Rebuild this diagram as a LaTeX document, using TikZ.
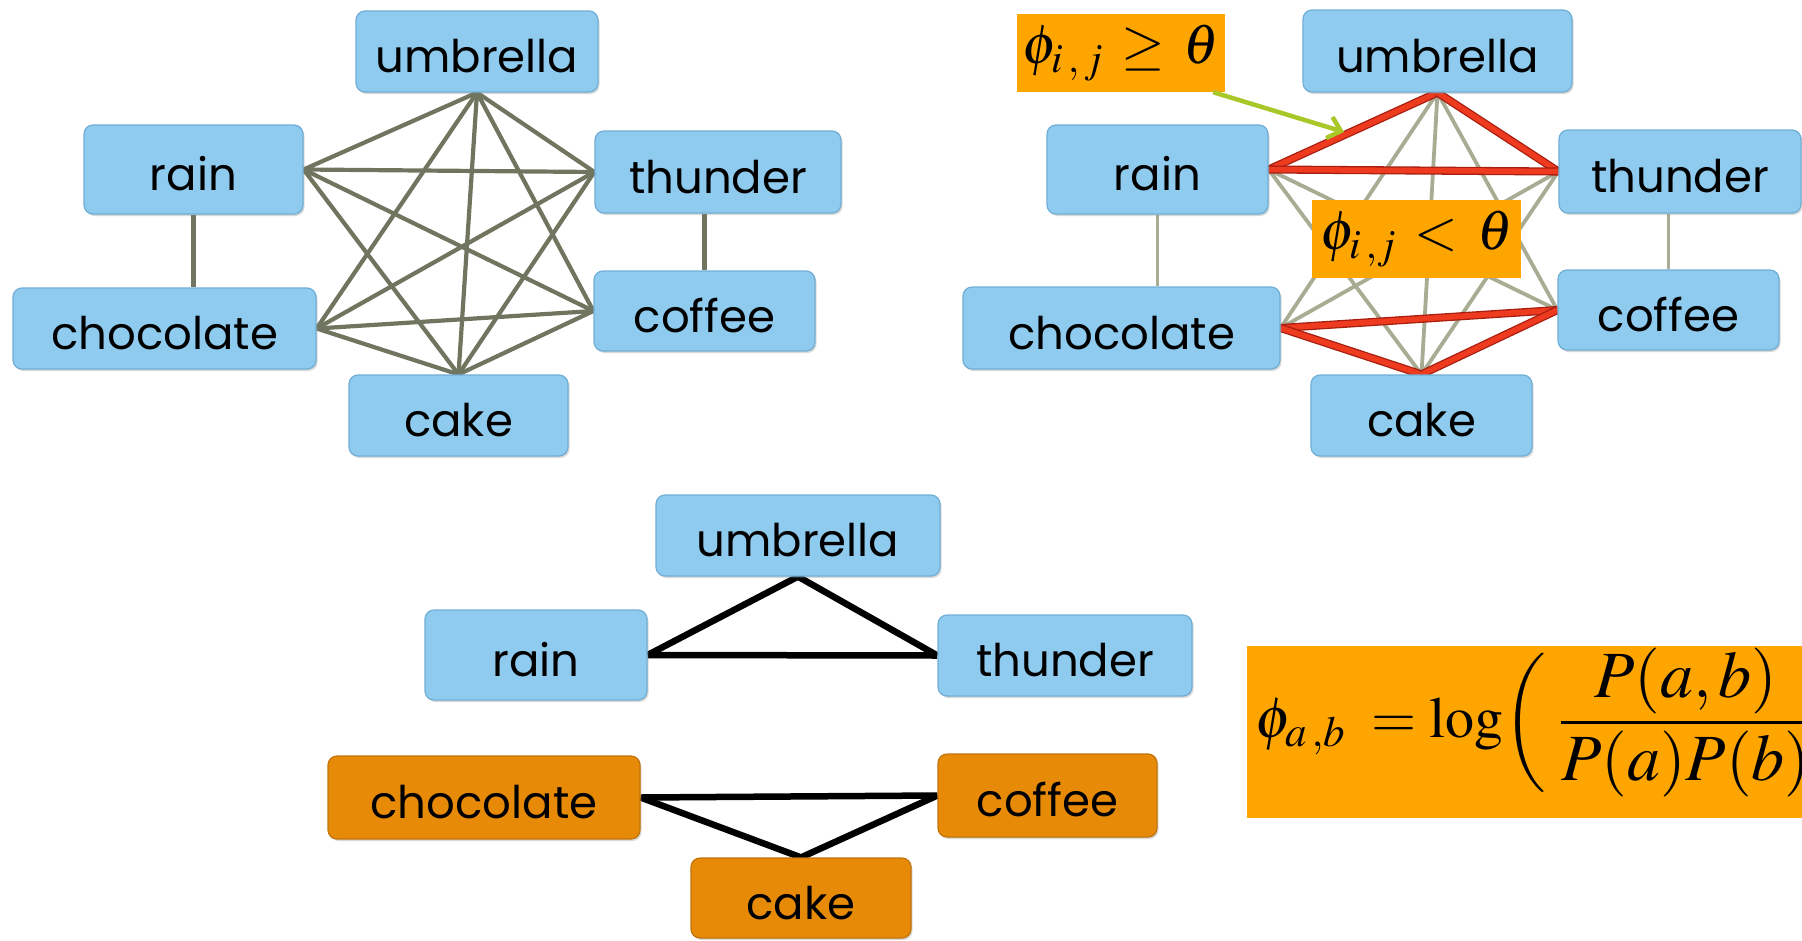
\documentclass[tikz,border=0pt]{standalone}
\usepackage{mathptmx}
\usepackage[no-math]{fontspec}
\newfontfamily\nodefont{Poppins}
\usetikzlibrary{arrows.meta,shadows,backgrounds}
\definecolor{nodeblue}{HTML}{8FCBEE}
\definecolor{nodeedge}{HTML}{70AED6}
\definecolor{nodeorange}{HTML}{E68A08}
\definecolor{nodeoedge}{HTML}{C2740A}
\definecolor{labelorange}{HTML}{FFA500}
\definecolor{edgeolive}{HTML}{707560}
\definecolor{edgegray}{HTML}{A8AC93}
\definecolor{edgered}{HTML}{EE3A1E}
\definecolor{edgereddark}{HTML}{A81E10}
\definecolor{arrowgreen}{HTML}{A8C82A}
\newcommand{\bigpart}[1]{\mbox{\fontsize{66}{76}\selectfont$#1$}}
\newcommand{\fixparen}[1]{\mathopen{\left#1\vcenter{\hbox{\rule{0pt}{142pt}}}\right.}}
\newcommand{\fixcparen}[1]{\mathclose{\left.\vcenter{\hbox{\rule{0pt}{142pt}}}\right#1}}
\begin{document}
\begin{tikzpicture}[x=1pt,y=-1pt,
  nb/.style={rounded corners=9, fill=nodeblue, draw=nodeedge, line width=1.2, inner sep=0,
    text height=42, text depth=0,
    font=\nodefont\fontsize{45}{50}\selectfont,
    drop shadow={shadow xshift=1.5pt, shadow yshift=-2pt, opacity=0.3}},
  no/.style={nb, fill=nodeorange, draw=nodeoedge},
  lab/.style={fill=labelorange, inner sep=0},
  eolive/.style={draw=edgeolive, line width=4.2},
  egray/.style={draw=edgegray, line width=3.8},
  ered/.style={draw=edgereddark, double=edgered, double distance=5.5, line width=1.3},
  eblack/.style={draw=black, line width=6.5},
]
\useasboundingbox (0,0) rectangle (1802,940);
\clip (0,0) rectangle (1802,940);

% ---------- left graph ----------
\node[nb, minimum width=242, minimum height=81] (lu) at (477,51.5) {umbrella};
\node[nb, minimum width=219, minimum height=89] (lr) at (193.5,169.5) {rain};
\node[nb, minimum width=246, minimum height=82] (lt) at (718,172) {thunder};
\node[nb, minimum width=303, minimum height=81] (lch) at (164.5,328.5) {chocolate};
\node[nb, minimum width=221, minimum height=80] (lco) at (704.5,311) {coffee};
\node[nb, minimum width=219, minimum height=81] (lca) at (458.5,415.5) {cake};
\begin{scope}[on background layer]
\draw[eolive] (lu.south) -- (lr.east);
\draw[eolive] (lu.south) -- (lt.west);
\draw[eolive] (lu.south) -- (lch.east);
\draw[eolive] (lu.south) -- (lco.west);
\draw[eolive] (lu.south) -- (lca.north);
\draw[eolive] (lr.east) -- (lt.west);
\draw[eolive] (lr.east) -- (lco.west);
\draw[eolive] (lr.east) -- (lca.north);
\draw[eolive] (lt.west) -- (lch.east);
\draw[eolive] (lt.west) -- (lca.north);
\draw[eolive] (lch.east) -- (lco.west);
\draw[eolive] (lch.east) -- (lca.north);
\draw[eolive] (lco.west) -- (lca.north);
\draw[eolive] (lr.south) -- (lr.south |- lch.north);
\draw[eolive] (lt.south -| lco.north) -- (lco.north);
\end{scope}

% ---------- right graph ----------
\node[nb, minimum width=269, minimum height=82] (ru) at (1437.5,51) {umbrella};
\node[nb, minimum width=221, minimum height=89] (rr) at (1157.5,169.5) {rain};
\node[nb, minimum width=242, minimum height=83] (rt) at (1680,171.5) {thunder};
\node[nb, minimum width=317, minimum height=82] (rch) at (1121.5,328) {chocolate};
\node[nb, minimum width=221, minimum height=80] (rco) at (1668.5,310) {coffee};
\node[nb, minimum width=221, minimum height=81] (rca) at (1421.5,415.5) {cake};
\begin{scope}[on background layer]
\draw[egray] (ru.south) -- (rch.east);
\draw[egray] (ru.south) -- (rco.west);
\draw[egray] (ru.south) -- (rca.north);
\draw[egray] (rr.east) -- (rco.west);
\draw[egray] (rr.east) -- (rca.north);
\draw[egray] (rt.west) -- (rch.east);
\draw[egray] (rt.west) -- (rca.north);
\draw[egray] (rr.south) -- (rr.south |- rch.north);
\draw[egray] (rt.south -| rco.north) -- (rco.north);
\draw[ered] (ru.south) -- (rr.east);
\draw[ered] (ru.south) -- (rt.west);
\draw[ered] (rr.east) -- (rt.west);
\draw[ered] (rch.east) -- (rco.west);
\draw[ered] (rch.east) -- (rca.north);
\draw[ered] (rco.west) -- (rca.north);
\end{scope}
\node[lab, minimum width=208, minimum height=78, font=\fontsize{56}{64}\selectfont] (ge) at (1121,53) {$\phi_{i\,,\,j}\,\geq\,\theta$};
\node[lab, minimum width=209, minimum height=78, font=\fontsize{56}{64}\selectfont] (lt2) at (1416.5,239) {$\phi_{i\,,j}\,<\,\theta$};
\coordinate (arrtip) at (1344,132);
\draw[draw=arrowgreen, line width=4.5, -{Straight Barb[length=12pt, width=22pt, line width=4.5pt]}] ([xshift=-12pt]ge.south east) -- (arrtip);

% ---------- bottom graph ----------
\node[nb, minimum width=284, minimum height=81] (bu) at (798,535.5) {umbrella};
\node[nb, minimum width=222, minimum height=90] (br) at (536,655) {rain};
\node[nb, minimum width=254, minimum height=81] (bt) at (1065,655.5) {thunder};
\node[no, minimum width=312, minimum height=83] (bch) at (484,797.5) {chocolate};
\node[no, minimum width=219, minimum height=83] (bco) at (1047.5,795.5) {coffee};
\node[no, minimum width=220, minimum height=80] (bca) at (801,898) {cake};
\begin{scope}[on background layer]
\draw[eblack] (bu.south) -- (br.east);
\draw[eblack] (bu.south) -- (bt.west);
\draw[eblack] (br.east) -- (bt.west);
\draw[eblack] (bch.east) -- (bco.west);
\draw[eblack] (bch.east) -- (bca.north);
\draw[eblack] (bco.west) -- (bca.north);
\end{scope}

% ---------- formula ----------
\node[lab, anchor=north west, minimum width=580, minimum height=172] (fbox) at (1247,646) {};
\node[anchor=base west, inner sep=0, font=\fontsize{58}{68}\selectfont] (formula) at (1255,737)
  {$\displaystyle \phi_{a\,,b}\;=\log\fixparen(\;\frac{\bigpart{P(a,b)}}{\bigpart{P(a)P(b)}}\fixcparen)$};
\end{tikzpicture}
\end{document}
